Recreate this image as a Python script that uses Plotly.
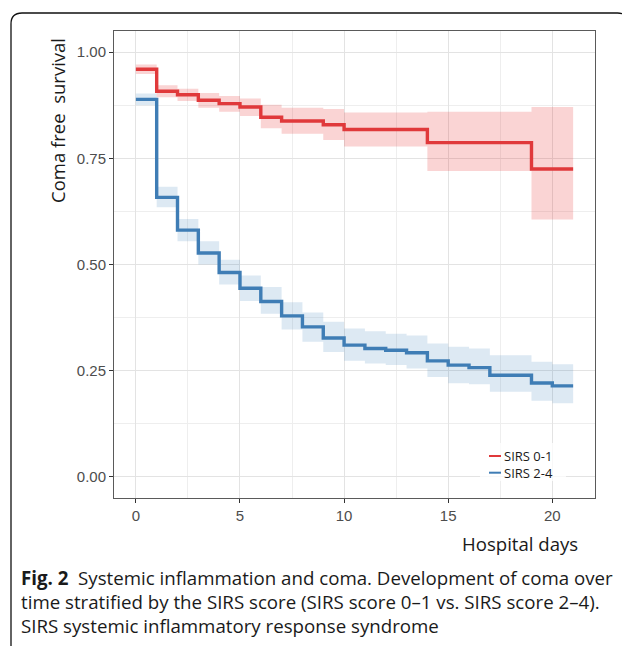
import plotly.graph_objects as go

# ---------------- data ----------------
days_low = [0, 1, 2, 3, 4, 5, 6, 7, 9, 10, 14, 19]
surv_low = [0.960, 0.908, 0.900, 0.887, 0.879, 0.871, 0.847, 0.838, 0.829, 0.818, 0.787, 0.725]
upper_low = [0.971, 0.922, 0.914, 0.904, 0.897, 0.891, 0.876, 0.869, 0.866, 0.858, 0.860, 0.871]
lower_low = [0.949, 0.894, 0.885, 0.869, 0.860, 0.850, 0.821, 0.808, 0.793, 0.778, 0.720, 0.606]

days_high = [0, 1, 2, 3, 4, 5, 6, 7, 8, 9, 10, 11, 12, 13, 14, 15, 16, 17, 19, 20]
surv_high = [0.889, 0.658, 0.581, 0.527, 0.481, 0.444, 0.413, 0.379, 0.353, 0.327,
             0.310, 0.302, 0.298, 0.292, 0.273, 0.263, 0.257, 0.239, 0.221, 0.214]
upper_high = [0.903, 0.683, 0.607, 0.555, 0.511, 0.474, 0.447, 0.411, 0.387, 0.365,
              0.349, 0.343, 0.337, 0.333, 0.314, 0.306, 0.302, 0.286, 0.271, 0.265]
lower_high = [0.875, 0.635, 0.555, 0.500, 0.453, 0.414, 0.384, 0.347, 0.318, 0.294,
              0.273, 0.267, 0.263, 0.255, 0.235, 0.220, 0.218, 0.200, 0.179, 0.173]

end_day = 21
x_ticks = [0, 5, 10, 15, 20]
y_ticks = [0.00, 0.25, 0.50, 0.75, 1.00]

groups = [
    ("SIRS 0-1", days_low, surv_low, upper_low, lower_low, "#E0393B", "rgba(228,26,28,0.19)"),
    ("SIRS 2-4", days_high, surv_high, upper_high, lower_high, "#3F7DB5", "rgba(55,126,184,0.17)"),
]

# page has an 8px body margin: size the figure so that it fills the window
OFF = 8
W, H = 630 - OFF, 649 - OFF
L, R, T, B = 114, 595, 31, 498   # panel edges in window pixels


def px(x):
    return (x - L) / (R - L)


def py(y):
    return (B - y) / (B - T)


fig = go.Figure()

for name, d, s, u, lo, col, fill in groups:
    xs = d + [end_day]
    fig.add_trace(go.Scatter(x=xs, y=lo + [lo[-1]], mode="lines", line=dict(width=0, shape="hv"),
                             hoverinfo="skip", showlegend=False))
    fig.add_trace(go.Scatter(x=xs, y=u + [u[-1]], mode="lines", line=dict(width=0, shape="hv"),
                             fill="tonexty", fillcolor=fill, hoverinfo="skip", showlegend=False))

for name, d, s, u, lo, col, fill in groups:
    xs = d + [end_day]
    fig.add_trace(go.Scatter(x=xs, y=s + [s[-1]], mode="lines", name=name,
                             line=dict(color=col, width=3.4, shape="hv"), showlegend=False))

tickfont = dict(family="Liberation Sans, Arial, sans-serif", size=15, color="#4D4D4D")
fig.update_xaxes(range=[-1.05, 22.05], tickvals=x_ticks, ticks="outside", ticklen=4, tickwidth=1,
                 tickcolor="#333333", tickfont=tickfont, showgrid=True, gridcolor="#E3E3E3", gridwidth=1.2,
                 minor=dict(dtick=2.5, tick0=0, showgrid=True, gridcolor="#EEEEEE", gridwidth=0.7),
                 zeroline=False, showline=True, mirror=True, linecolor="#5A5A5A", linewidth=1)
fig.update_yaxes(range=[-0.05, 1.05], tickvals=y_ticks, tickformat=".2f", ticks="outside", ticklen=4,
                 tickwidth=1, tickcolor="#333333", tickfont=tickfont, showgrid=True, gridcolor="#E3E3E3",
                 gridwidth=1.2,
                 minor=dict(dtick=0.125, tick0=0, showgrid=True, gridcolor="#EEEEEE", gridwidth=0.7),
                 zeroline=False, showline=True, mirror=True, linecolor="#5A5A5A", linewidth=1)

shapes = []
# outer rounded frame
x0, y0, x1, y1, r = 11, 13, 628.5, 646, 11
path = (f"M {px(x0)},{py(y1)} L {px(x0)},{py(y0 + r)} Q {px(x0)},{py(y0)} {px(x0 + r)},{py(y0)} "
        f"L {px(x1 - r)},{py(y0)} Q {px(x1)},{py(y0)} {px(x1)},{py(y0 + r)} L {px(x1)},{py(y1)}")
shapes.append(dict(type="path", xref="paper", yref="paper", path=path,
                   line=dict(color="#111111", width=1.3)))
# manual legend box
shapes.append(dict(type="rect", xref="paper", yref="paper", x0=px(480), x1=px(566), y0=py(481), y1=py(443),
                   fillcolor="rgba(255,255,255,0.75)", line=dict(width=0), layer="above"))
legend_rows = [456, 472.7]
for (name, d, s, u, lo, col, fill), yy in zip(groups, legend_rows):
    shapes.append(dict(type="line", xref="paper", yref="paper", x0=px(489), x1=px(501), y0=py(yy), y1=py(yy),
                       line=dict(color=col, width=2), layer="above"))

txt_font = "Open Sans, Noto Sans, sans-serif"
annotations = []
annotations.append(dict(x=px(502), y=py(sum(legend_rows) / 2), xref="paper", yref="paper",
                        text="<br>".join(g[0] for g in groups), showarrow=False, align="left",
                        xanchor="left", yanchor="middle",
                        font=dict(family=txt_font, size=13, color="#1a1a1a")))

annotations.append(dict(x=px(57), y=py(121), xref="paper", yref="paper", text="Coma free\u00a0 survival",
                        textangle=-90, showarrow=False, xanchor="center", yanchor="middle",
                        font=dict(family=txt_font, size=18.5, color="#1a1a1a")))
annotations.append(dict(x=px(580), y=py(543), xref="paper", yref="paper", text="Hospital days",
                        showarrow=False, xanchor="right", yanchor="middle",
                        font=dict(family=txt_font, size=18.6, color="#1a1a1a")))
caption = [
    "<b>Fig. 2</b>\u00a0 Systemic inflammation and coma. Development of coma over",
    "time stratified by the SIRS score (SIRS score 0–1 vs. SIRS score 2–4).",
    "SIRS systemic inflammatory response syndrome",
]
for line, yy in zip(caption, [577, 601, 625]):
    annotations.append(dict(x=px(19), y=py(yy), xref="paper", yref="paper", text=line, showarrow=False,
                            xanchor="left", yanchor="middle",
                            font=dict(family=txt_font, size=18.7, color="#1a1a1a")))

fig.update_layout(width=W, height=H,
                  margin=dict(l=L - OFF, r=630 - R, t=T - OFF, b=649 - B),
                  paper_bgcolor="white", plot_bgcolor="white", showlegend=False,
                  shapes=shapes, annotations=annotations)

fig.write_html("out.html")
